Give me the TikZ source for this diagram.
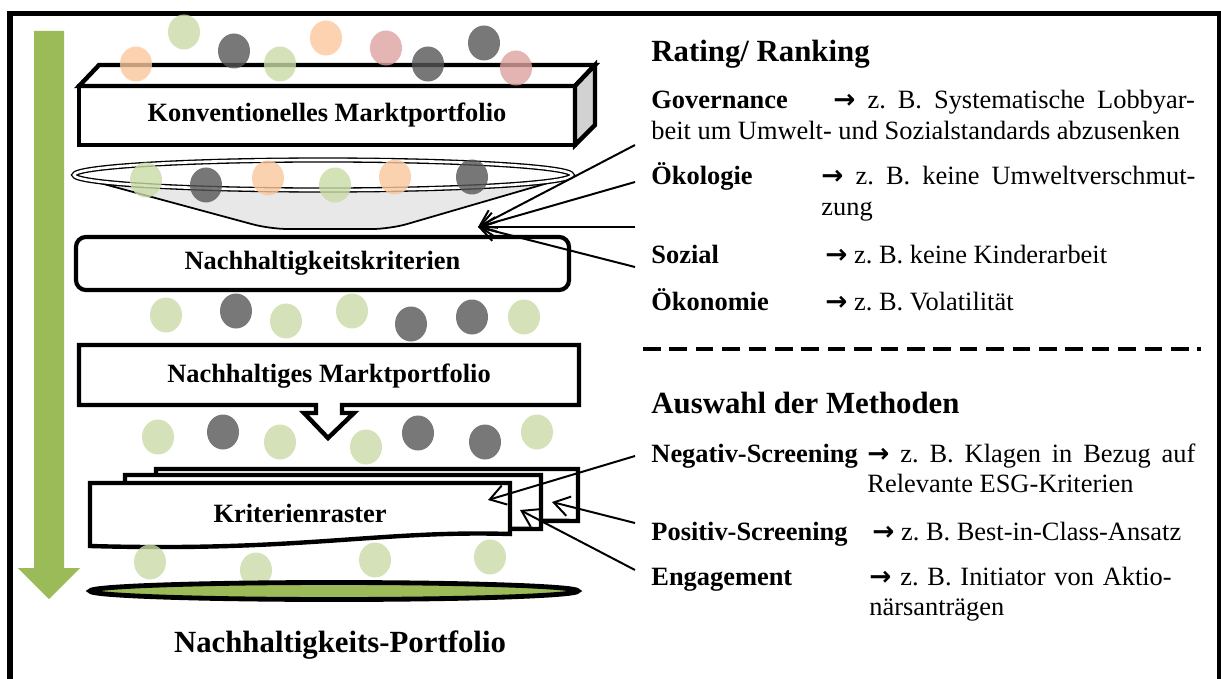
\documentclass[tikz,border=0pt]{standalone}
\usepackage{fontspec}
\setmainfont{Liberation Serif}
\newfontfamily\arrowfont{DejaVu Sans}
\usetikzlibrary{positioning,arrows.meta}
\frenchspacing

\definecolor{leafgreen}{HTML}{9BBB59}
\definecolor{dotgreen}{HTML}{CADBA7}
\definecolor{dotorange}{HTML}{FBC79C}
\definecolor{dotgray}{HTML}{565656}
\definecolor{dotred}{HTML}{DEA2A0}

\newcommand{\txtnorm}{\fontsize{12}{13.8}\selectfont}
\newcommand{\txtbig}{\fontsize{14}{16.8}\selectfont\bfseries}
\newcommand{\arr}{{\arrowfont\bfseries →}}

\begin{document}
\begin{tikzpicture}[x=0.4545pt, y=-0.4545pt,
    dot/.style={fill=#1, fill opacity=0.8},
    boxed/.style={draw, line width=2pt, inner sep=0pt, outer sep=0pt, font=\txtnorm\bfseries},
    conn/.style={line width=0.9pt, -{Straight Barb[length=7pt, width=9pt]}},
    lbl/.style={anchor=base west, inner sep=0pt, font=\txtnorm\bfseries},
    desc/.style={anchor=base west, inner sep=0pt, font=\txtnorm, align=justify},
    head/.style={anchor=base west, inner sep=0pt, font=\txtbig}]
    \useasboundingbox (0,0) rectangle (1221,679);
    \draw[line width=2.3pt] (10,13.5) rectangle (1219.5,700);

    % big green arrow on the left
    \fill[leafgreen] (34,31) -- (64,31) -- (64,568) -- (80,568) -- (49,599) -- (18,568) -- (34,568) -- cycle;

    % conventional portfolio as a flat box
    \node[boxed, minimum width=225.4pt, minimum height=26.8pt] (konv) at (327,115.5) {Konventionelles Marktportfolio};
    \draw[line width=2pt, fill=white] (konv.north west) -- ++(20,-21) -- ++(496,0) -- (konv.north east) -- cycle;
    \draw[line width=2pt, fill=gray!35] (konv.north east) -- ++(20,-21) -- ++(0,60) -- (konv.south east) -- cycle;
    \foreach \cx/\cy/\cc in {136/64/dotorange, 184/32/dotgreen, 234/51/dotgray, 280/64/dotgreen,
        326/38/dotorange, 386/48/dotred, 428/64/dotgray, 484/43/dotgray, 516/68/dotred}
        \fill[dot=\cc] (\cx,\cy) ellipse [x radius=16, y radius=17.5];

    % filter funnel
    \filldraw[fill=gray!18, line width=0.8pt, rounded corners=8pt] (74,176) -- (270,229) -- (390,229) -- (572,176);
    \draw[fill=white, line width=0.6pt, double, double distance=1.2pt] (323,175) ellipse [x radius=249, y radius=15];
    \foreach \cx/\cy/\cc in {146/180/dotgreen, 206/185/dotgray, 268/178/dotorange,
        335/185/dotgreen, 395/177/dotorange, 472/177/dotgray}
        \fill[dot=\cc] (\cx,\cy) ellipse [x radius=16, y radius=17.5];

    \node[boxed, rounded corners=4.5pt, line width=1.9pt, minimum width=224.1pt, minimum height=24.1pt] (kriterien) at (322.5,263.5) {Nachhaltigkeitskriterien};
    \foreach \cx/\cy/\cc in {166/315/dotgreen, 236/311/dotgray, 286/321/dotgreen, 352/311/dotgreen,
        411/324/dotgray, 472/317/dotgray, 524/317/dotgreen}
        \fill[dot=\cc] (\cx,\cy) ellipse [x radius=16, y radius=17.5];

    % sustainable portfolio with pointer
    \draw[line width=2pt, fill=white] (79,345) -- (579,345) -- (579,405) -- (342,405) -- (342,413) -- (354,413)
        -- (328,438) -- (304,413) -- (316,413) -- (316,405) -- (79,405) -- cycle;
    \node[font=\txtnorm\bfseries] (nachmarkt) at (329,376) {Nachhaltiges Marktportfolio};
    \foreach \cx/\cy/\cc in {158/437/dotgreen, 223/432/dotgray, 280/442/dotgreen, 366/447/dotgreen,
        418/433/dotgray, 485/442/dotgray, 537/432/dotgreen}
        \fill[dot=\cc] (\cx,\cy) ellipse [x radius=16, y radius=17.5];

    % stacked criteria sheets
    \filldraw[line width=2pt, fill=white] (156,469) -- (578,469) -- (578,521) .. controls (450,520) and (350,528) .. (156,530) -- cycle;
    \filldraw[line width=2pt, fill=white] (125,475) -- (541,475) -- (541,529) .. controls (420,528) and (330,536) .. (125,538) -- cycle;
    \filldraw[line width=2pt, fill=white] (90,483) -- (510,483) -- (510,534) .. controls (380,530) and (300,552) .. (90,546) -- cycle;
    \node[font=\txtnorm\bfseries] (raster) at (300,513) {Kriterienraster};
    \foreach \cx/\cy/\cc in {150/562/dotgreen, 256/570/dotgreen, 375/560/dotgreen, 490/557/dotgreen}
        \fill[dot=\cc] (\cx,\cy) ellipse [x radius=16, y radius=17.5];

    \draw[line width=2.2pt, fill=leafgreen] (334,591) ellipse [x radius=244, y radius=8.5];
    \node[font=\txtbig] (nhport) at (340,645) {Nachhaltigkeits-Portfolio};

    % rating / ranking
    \node[head] (rating) at (651,62) {Rating/ Ranking};
    \node[desc, text width=247pt] (gov) at (651,109)
        {\makebox[82.7pt][l]{\textbf{Governance}}\arr{} z. B. Systematische Lobbyar-\linebreak beit um Umwelt- und Sozialstandards abzusenken};
    \node[lbl] (oeko) at (651,185) {Ökologie};
    \node[desc, text width=170pt] (oekotxt) at (821,185) {\arr{} z. B. keine Umweltverschmut-\linebreak zung};
    \node[lbl] (sozial) at (651,263) {Sozial};
    \node[desc] (sozialtxt) at (825,263) {\arr{} z. B. keine Kinderarbeit};
    \node[lbl] (oekon) at (651,310) {Ökonomie};
    \node[desc] (oekontxt) at (825,310) {\arr{} z. B. Volatilität};

    \draw[line width=1.4pt, dash pattern=on 8pt off 4pt] (643,349) -- (1201,349);

    % choice of methods
    \node[head] (auswahl) at (651,413) {Auswahl der Methoden};
    \node[lbl] (neg) at (651,462) {Negativ-Screening};
    \node[desc, text width=149pt] (negtxt) at (867,462) {\arr{} z. B. Klagen in Bezug auf\linebreak Relevante ESG-Kriterien};
    \node[lbl] (pos) at (651,540) {Positiv-Screening};
    \node[desc] (postxt) at (872,540) {\arr{} z. B. Best-in-Class-Ansatz};
    \node[lbl] (eng) at (651,585) {Engagement};
    \node[desc, text width=149pt, align=left] (engtxt) at (869,585) {\arr{} z. B. Initiator von Aktio-\\närsanträgen};

    % connectors
    \coordinate (filter) at (478,227);
    \coordinate (r1) at (635,145);
    \coordinate (r2) at (635,182);
    \coordinate (r3) at (635,227);
    \coordinate (r4) at (635,267);
    \foreach \r in {r1,r2,r3,r4}
        \draw[conn] (\r) -- (filter);
    \coordinate (m1) at (635,456);
    \coordinate (m2) at (635,523);
    \coordinate (m3) at (635,570);
    \coordinate (sheetfront) at (488,500);
    \coordinate (sheetback) at (552,502);
    \coordinate (sheetmid) at (520,510);
    \draw[conn] (m1) -- (sheetfront);
    \draw[conn] (m2) -- (sheetback);
    \draw[conn] (m3) -- (sheetmid);
\end{tikzpicture}
\end{document}
